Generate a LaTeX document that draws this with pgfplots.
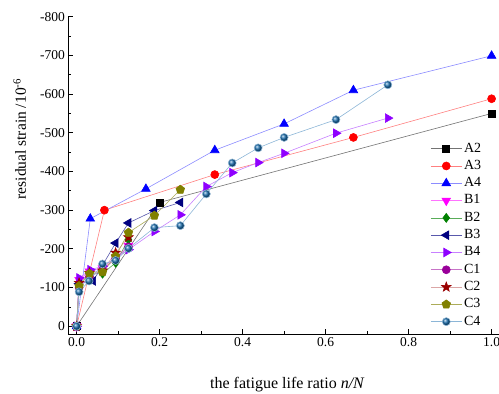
\documentclass[border=0pt]{standalone}
\usepackage{fontspec}
\setmainfont{Liberation Serif}
\usepackage{pgfplots}
\pgfplotsset{compat=1.18}
\definecolor{cB1}{RGB}{255,0,255}
\definecolor{cB2}{RGB}{0,128,0}
\definecolor{cB3}{RGB}{0,0,128}
\definecolor{cB4}{RGB}{143,0,255}
\definecolor{cC1}{RGB}{153,0,153}
\definecolor{cC2}{RGB}{153,0,0}
\definecolor{cC3}{RGB}{128,128,0}
\definecolor{cC4}{RGB}{25,110,175}
\pgfdeclareplotmark{fstar}{%
 \pgfpathmoveto{\pgfpointpolar{90}{\pgfplotmarksize}}%
 \pgfpathlineto{\pgfpointpolar{126}{0.42\pgfplotmarksize}}%
 \pgfpathlineto{\pgfpointpolar{162}{\pgfplotmarksize}}%
 \pgfpathlineto{\pgfpointpolar{198}{0.42\pgfplotmarksize}}%
 \pgfpathlineto{\pgfpointpolar{234}{\pgfplotmarksize}}%
 \pgfpathlineto{\pgfpointpolar{270}{0.42\pgfplotmarksize}}%
 \pgfpathlineto{\pgfpointpolar{306}{\pgfplotmarksize}}%
 \pgfpathlineto{\pgfpointpolar{342}{0.42\pgfplotmarksize}}%
 \pgfpathlineto{\pgfpointpolar{18}{\pgfplotmarksize}}%
 \pgfpathlineto{\pgfpointpolar{54}{0.42\pgfplotmarksize}}%
 \pgfpathclose\pgfusepathqfillstroke}
\begin{document}
\begin{tikzpicture}
\begin{axis}[
  scale only axis,
  width=431.6pt, height=317.3pt,
  xmin=-0.02, xmax=1.02,
  ymin=-800, ymax=20,
  y dir=reverse,
  axis x line*=bottom, axis y line*=left,
  axis line style={-, line width=0.9pt},
  tick align=inside,
  xtick={0,0.2,0.4,0.6,0.8,1.0},
  ytick={-800,-700,-600,-500,-400,-300,-200,-100,0},
  yticklabels={-800,-700,-600,-500,-400,-300,-200,-100,0},
  minor x tick num=1, minor y tick num=1,
  major tick length=5pt, minor tick length=3pt,
  tick style={black, line width=0.8pt},
  xticklabel style={/pgf/number format/.cd, fixed, fixed zerofill, precision=1},
  /pgf/number format/assume math mode=true,
  ticklabel style={font=\fontsize{13.5}{16}\selectfont},
  clip=false,
  every axis plot/.append style={line width=0.6pt},
  legend cell align=left,
  legend image code/.code={\draw[mark repeat=2,mark phase=2] plot coordinates {(0pt,0pt) (15.5pt,0pt) (31pt,0pt)};},
  legend style={draw=none, fill=none, at={(axis cs:0.845,-487)}, anchor=north west,
    font=\fontsize{14}{16}\selectfont, row sep=0pt,
    nodes={text height=10pt, text depth=3.3pt, inner sep=2pt}},
]
\addplot[color=black!55, mark=square*, mark size=3.5pt, mark options={solid, fill=black, draw=black}]
  coordinates {(0,0) (0.2,-320) (1.0,-550)};
\addlegendentry{A2}
\addplot[color=red!50, mark=*, mark size=4pt, mark options={solid, fill=red, draw=red}]
  coordinates {(0,0) (0.067,-300) (0.333,-392) (0.667,-488) (1.0,-588)};
\addlegendentry{A3}
\addplot[color=blue!45, mark=triangle*, mark size=5pt, mark options={solid, fill=blue, draw=blue}]
  coordinates {(0,0) (0.033,-278) (0.167,-355) (0.333,-455) (0.5,-523) (0.667,-610) (1.0,-699)};
\addlegendentry{A4}
\addplot[color=cB1!55, mark=triangle*, mark size=5pt, mark options={solid, rotate=180, fill=cB1, draw=cB1}]
  coordinates {(0,0) (0.006,-120) (0.031,-142) (0.0625,-150) (0.094,-178) (0.125,-208)};
\addlegendentry{B1}
\addplot[color=cB2!65, mark=diamond*, mark size=4.5pt, mark options={solid, fill=cB2, draw=cB2}]
  coordinates {(0,0) (0.006,-108) (0.031,-135) (0.0625,-136) (0.094,-164) (0.125,-224)};
\addlegendentry{B2}
\addplot[color=cB3!65, mark=triangle*, mark size=5pt, mark options={solid, rotate=90, fill=cB3, draw=cB3}]
  coordinates {(0,0) (0.006,-110) (0.04,-117) (0.094,-215) (0.125,-267) (0.1875,-299) (0.25,-320)};
\addlegendentry{B3}
\addplot[color=cB4!50, mark=triangle*, mark size=5pt, mark options={solid, rotate=-90, fill=cB4, draw=cB4}]
  coordinates {(0,0) (0.006,-125) (0.033,-146) (0.0625,-155) (0.125,-198) (0.1875,-245) (0.25,-288) (0.3125,-361) (0.375,-397) (0.4375,-423) (0.5,-447) (0.625,-499) (0.75,-538)};
\addlegendentry{B4}
\addplot[color=cC1!55, mark=*, mark size=4pt, mark options={solid, fill=cC1, draw=cC1}]
  coordinates {(0,0) (0.006,-100) (0.031,-128) (0.0625,-145) (0.094,-175) (0.125,-205)};
\addlegendentry{C1}
\addplot[color=cC2!35, mark=fstar, mark size=5pt, mark options={solid, fill=cC2, draw=cC2}]
  coordinates {(0,0) (0.006,-112) (0.031,-138) (0.0625,-144) (0.094,-190) (0.125,-230)};
\addlegendentry{C2}
\addplot[color=cC3!65, mark=pentagon*, mark size=4.5pt, mark options={solid, fill=cC3, draw=cC3}]
  coordinates {(0,0) (0.006,-104) (0.031,-136) (0.0625,-140) (0.094,-181) (0.125,-242) (0.1875,-286) (0.25,-353)};
\addlegendentry{C3}
\addplot[color=cC4!50, mark=ball, mark size=4pt, mark options={solid, ball color=cC4}]
  coordinates {(0,0) (0.006,-89) (0.03,-117) (0.0625,-161) (0.094,-170) (0.125,-201) (0.1875,-255) (0.25,-260) (0.3125,-342) (0.375,-422) (0.4375,-461) (0.5,-488) (0.625,-534) (0.75,-624)};
\addlegendentry{C4}
\node[rotate=90, font=\fontsize{15.5}{18}\selectfont] at (axis cs:-0.137,-484) {residual strain /10\textsuperscript{-6}};
\node[font=\fontsize{16}{19}\selectfont] at (axis cs:0.508,151) {the fatigue life ratio \textit{n/N}};
\coordinate (bl) at (axis cs:-0.02,20);
\end{axis}
\pgfresetboundingbox
\path[use as bounding box] (bl) ++(-68.3pt,-60pt) rectangle ++(499pt,394pt);
\end{tikzpicture}
\end{document}
